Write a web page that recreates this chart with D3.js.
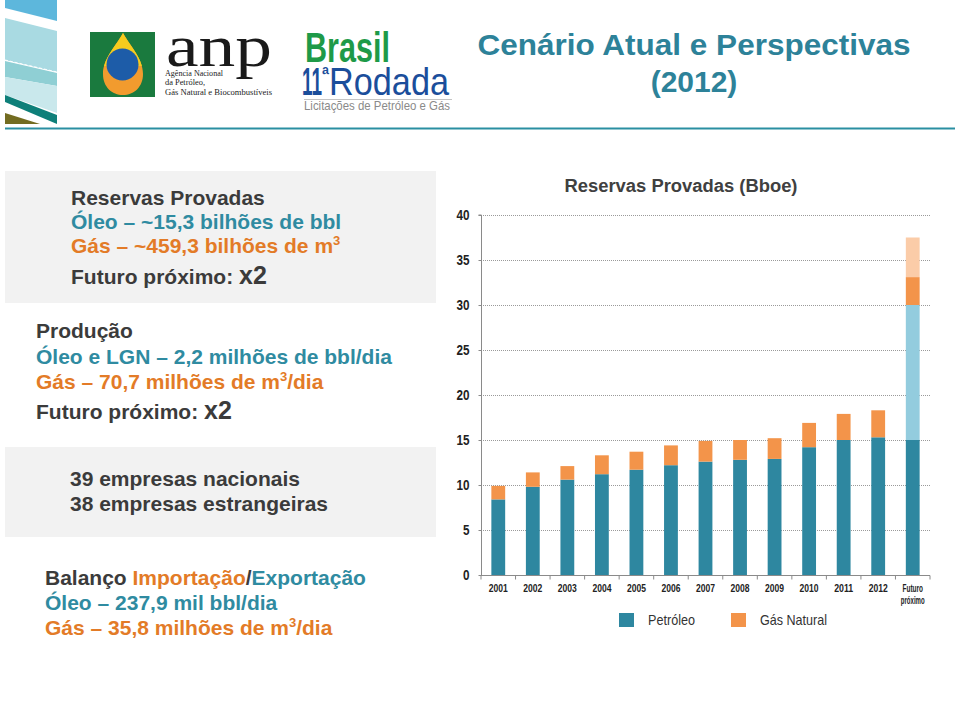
<!DOCTYPE html>
<html><head><meta charset="utf-8">
<script src="https://cdn.jsdelivr.net/npm/d3@7"></script>
<style>
html,body{margin:0;padding:0;background:#fff;}
svg{display:block;}
</style></head>
<body>
<svg id="c" width="960" height="716"></svg>
<script>
// ---------- DATA ----------
const categories = ["2001","2002","2003","2004","2005","2006","2007","2008","2009","2010","2011","2012","Futuro próximo"];
const petroleo       = [8.4, 9.8, 10.6, 11.2, 11.7, 12.2, 12.6, 12.8, 12.9, 14.2, 15.0, 15.3, 15.0];
const petroleoFuturo = [0,   0,   0,    0,    0,    0,    0,    0,    0,    0,    0,    0,    15.0];
const gasNatural     = [1.5, 1.6, 1.5,  2.1,  2.0,  2.2,  2.3,  2.2,  2.3,  2.7,  2.9,  3.0,  3.1];
const gasFuturo      = [0,   0,   0,    0,    0,    0,    0,    0,    0,    0,    0,    0,    4.4];
const yTicks = [0,5,10,15,20,25,30,35,40];
const legendLabels = ["Petróleo","Gás Natural"];

// ---------- STYLE ----------
const C = {teal:"#2E87A0", orange:"#F3944A", lblue:"#93CCDE", lorange:"#FBCCA8",
  dark:"#3B3B3B", tTeal:"#2F8BA1", tOrange:"#E37B27", box:"#F2F2F2"};
const SANS = "'Liberation Sans', Arial, Helvetica, sans-serif";
const SERIF = "'Liberation Serif','DejaVu Serif',serif";

const svg = d3.select("#c");

// ---------- HEADER DECORATION ----------
const deco = svg.append("g");
deco.append("polygon").attr("points","5,0 57,0 57,21 5,8").attr("fill","#5DB7DC");
deco.append("polygon").attr("points","5,18 57,31 57,72 5,60").attr("fill","#A9DAE2");
deco.append("line").attr("x1",5).attr("y1",60).attr("x2",57).attr("y2",72).attr("stroke","#fff").attr("stroke-width",1).attr("stroke-dasharray","3,2");
deco.append("polygon").attr("points","5,61 57,73 57,86 5,77").attr("fill","#8FCFD4");
deco.append("polygon").attr("points","5,77 57,86 57,113 5,95").attr("fill","#C9E8EC");
deco.append("polygon").attr("points","5,95 57,115 57,124 5,102").attr("fill","#0E7F79");
deco.append("polygon").attr("points","5,113 40,124 5,124").attr("fill","#736C21");
svg.append("line").attr("x1",5).attr("x2",955).attr("y1",128.5).attr("y2",128.5).attr("stroke","#2A8FA2").attr("stroke-width",2);

// ANP logo
const logo = svg.append("g");
logo.append("rect").attr("x",90).attr("y",32).attr("width",65).attr("height",65).attr("fill","#1A7A3E");
const dropPath = "M123,33 C130,46 143,58 143,74 C143,87 134,95 123,95 C112,95 103,87 103,74 C103,58 116,46 123,33 Z";
logo.append("path").attr("d",dropPath).attr("fill","#F29B2E");
logo.append("clipPath").attr("id","dropTop").append("rect").attr("x",90).attr("y",30).attr("width",70).attr("height",36);
logo.append("path").attr("d",dropPath).attr("fill","#F6CB1E").attr("clip-path","url(#dropTop)");
logo.append("circle").attr("cx",122.5).attr("cy",64.5).attr("r",16).attr("fill","#1D5CA8");
logo.append("text").attr("x",166).attr("y",66).attr("font-family",SERIF)
  .attr("font-size",60).attr("fill","#1a1a1a").attr("textLength",106).attr("lengthAdjust","spacingAndGlyphs").text("anp");
const anpSmall = ["Agência Nacional","da Petróleo,","Gás Natural e Biocombustíveis"];
const anpLen = [58, 40, 107];
const anpY = [76, 85, 95];
logo.selectAll("text.sm").data(anpSmall).join("text").attr("class","sm")
  .attr("x",165).attr("y",(d,i)=>anpY[i]).attr("font-family",SERIF)
  .attr("font-size",8.5).attr("fill","#222").attr("textLength",(d,i)=>anpLen[i]).attr("lengthAdjust","spacingAndGlyphs").text(d=>d);

// Brasil 11a Rodada
svg.append("text").attr("x",305).attr("y",62).attr("font-family",SANS).attr("font-weight","bold")
  .attr("font-size",43).attr("fill","#1E9A48").attr("textLength",85).attr("lengthAdjust","spacingAndGlyphs").text("Brasil");
svg.append("text").attr("x",302).attr("y",95).attr("font-family",SANS).attr("font-weight","bold")
  .attr("font-size",39).attr("fill","#1B4E9B").attr("textLength",20).attr("lengthAdjust","spacingAndGlyphs").text("11");
svg.append("text").attr("x",322).attr("y",82).attr("font-family",SANS).attr("font-weight","bold")
  .attr("font-size",20).attr("fill","#1B4E9B").attr("textLength",7).attr("lengthAdjust","spacingAndGlyphs").text("ª");
svg.append("text").attr("x",329).attr("y",95).attr("font-family",SANS)
  .attr("font-size",39).attr("fill","#1B4E9B").attr("textLength",120).attr("lengthAdjust","spacingAndGlyphs").text("Rodada");
svg.append("line").attr("x1",304).attr("x2",452).attr("y1",99.5).attr("y2",99.5).attr("stroke","#aaa").attr("stroke-width",0.7);
svg.append("text").attr("x",304).attr("y",110).attr("font-family",SANS).attr("font-size",13)
  .attr("fill","#8a8a8a").attr("textLength",146).attr("lengthAdjust","spacingAndGlyphs").text("Licitações de Petróleo e Gás");

// Title
svg.append("text").attr("x",694).attr("y",55).attr("text-anchor","middle").attr("font-family",SANS)
  .attr("font-weight","bold").attr("font-size",30).attr("fill","#2D8299")
  .attr("textLength",433).attr("lengthAdjust","spacingAndGlyphs").text("Cenário Atual e Perspectivas");
svg.append("text").attr("x",694).attr("y",92).attr("text-anchor","middle").attr("font-family",SANS)
  .attr("font-weight","bold").attr("font-size",30).attr("fill","#2D8299").text("(2012)");

// ---------- LEFT TEXT PANELS ----------
svg.append("rect").attr("x",5).attr("y",171).attr("width",431).attr("height",132).attr("fill",C.box);
svg.append("rect").attr("x",5).attr("y",447).attr("width",431).attr("height",90).attr("fill",C.box);

function rich(x, y, parts, size){
  const t = svg.append("text").attr("x",x).attr("y",y).attr("font-family",SANS)
    .attr("font-weight","bold").attr("font-size",size||21);
  parts.forEach(p=>{
    const s = t.append("tspan").attr("fill",p.c||C.dark).text(p.t);
    if(p.sup){ s.attr("font-size",13).attr("dy",-8); }
    if(p.after){ s.attr("dy",8); }
    if(p.size){ s.attr("font-size",p.size); }
  });
  return t;
}
rich(71,205,[{t:"Reservas Provadas"}]);
rich(71,229,[{t:"Óleo – ~15,3 bilhões de bbl",c:C.tTeal}]);
rich(71,253,[{t:"Gás – ~459,3 bilhões de m",c:C.tOrange},{t:"3",c:C.tOrange,sup:true}]);
rich(71,284,[{t:"Futuro próximo: "},{t:"x2",size:25}]);

rich(36,338,[{t:"Produção"}]);
rich(36,364,[{t:"Óleo e LGN – 2,2 milhões de bbl/dia",c:C.tTeal}]);
rich(36,389,[{t:"Gás – 70,7 milhões de m",c:C.tOrange},{t:"3",c:C.tOrange,sup:true},{t:"/dia",c:C.tOrange,after:true}]);
rich(36,419,[{t:"Futuro próximo: "},{t:"x2",size:25}]);

rich(70,486,[{t:"39 empresas nacionais"}]);
rich(70,511,[{t:"38 empresas estrangeiras"}]);

rich(45,585,[{t:"Balanço "},{t:"Importação",c:C.tOrange},{t:"/"},{t:"Exportação",c:C.tTeal}]);
rich(45,610,[{t:"Óleo – 237,9 mil bbl/dia",c:C.tTeal}]);
rich(45,635,[{t:"Gás – 35,8  milhões de m",c:C.tOrange},{t:"3",c:C.tOrange,sup:true},{t:"/dia",c:C.tOrange,after:true}]);

// ---------- CHART ----------
const x0 = 481, x1 = 930, yTop = 215, yBot = 575;
const x = d3.scaleBand().domain(categories).range([x0,x1]).paddingInner(0.6).paddingOuter(0.3);
const y = d3.scaleLinear().domain([0,40]).range([yBot,yTop]);

svg.append("text").attr("x",681).attr("y",192).attr("text-anchor","middle").attr("font-family",SANS)
  .attr("font-weight","bold").attr("font-size",18).attr("fill","#404040")
  .attr("textLength",233).attr("lengthAdjust","spacingAndGlyphs").text("Reservas Provadas (Bboe)");

// grid
svg.append("g").selectAll("line").data(yTicks.filter(d=>d>0)).join("line")
  .attr("x1",x0).attr("x2",x1).attr("y1",d=>Math.round(y(d))+0.5).attr("y2",d=>Math.round(y(d))+0.5)
  .attr("stroke","#9a9a9a").attr("stroke-width",1).attr("stroke-dasharray","1,1");

// stacked bars
const rows = categories.map((c,i)=>({cat:c, petroleo:petroleo[i], petroleoFuturo:petroleoFuturo[i], gasNatural:gasNatural[i], gasFuturo:gasFuturo[i]}));
const keys = ["petroleo","petroleoFuturo","gasNatural","gasFuturo"];
const colors = {petroleo:C.teal, petroleoFuturo:C.lblue, gasNatural:C.orange, gasFuturo:C.lorange};
const stack = d3.stack().keys(keys)(rows);
svg.append("g").selectAll("g").data(stack).join("g").attr("fill",d=>colors[d.key])
  .selectAll("rect").data(d=>d).join("rect")
  .attr("x",d=>x(d.data.cat)).attr("width",x.bandwidth())
  .attr("y",d=>y(d[1])).attr("height",d=>y(d[0])-y(d[1]));

// y axis
const yAxis = svg.append("g").attr("transform",`translate(${x0+0.5},0)`)
  .call(d3.axisLeft(y).tickValues(yTicks).tickSize(3).tickPadding(9).tickFormat(d3.format("d")));
yAxis.select(".domain").attr("stroke","#8a8a8a").attr("d",`M-3,${yTop}H0V${yBot}`);
yAxis.selectAll(".tick line").attr("stroke","#8a8a8a");
yAxis.selectAll("text").attr("font-family",SANS).attr("font-weight","bold").attr("font-size",14).attr("fill","#222")
  .attr("textLength",d=>d<10?6.5:13).attr("lengthAdjust","spacingAndGlyphs");

// x axis
const xa = svg.append("g").attr("transform",`translate(0,${yBot+0.5})`);
xa.append("line").attr("x1",x0).attr("x2",x1).attr("stroke","#8a8a8a");
const step = x.step();
const b0 = x(categories[0]) + x.bandwidth()/2 - step/2;
xa.selectAll("line.t").data(d3.range(categories.length+1)).join("line").attr("class","t")
  .attr("x1",i=>b0+i*step).attr("x2",i=>b0+i*step).attr("y1",0).attr("y2",4).attr("stroke","#8a8a8a");
const xl = xa.selectAll("text").data(categories).join("text")
  .attr("x",d=>x(d)+x.bandwidth()/2).attr("y",16).attr("text-anchor","middle")
  .attr("font-family",SANS).attr("font-weight","bold").attr("font-size",10.5).attr("fill","#222");
xl.each(function(d){
  const parts = d.split(" ");
  const t = d3.select(this);
  parts.forEach((p,i)=>t.append("tspan").attr("x",x(d)+x.bandwidth()/2).attr("dy",i?12:0)
    .attr("textLength",p.length===4?19:(p.length*3.4)).attr("lengthAdjust","spacingAndGlyphs").text(p));
});

// legend
const lg = svg.append("g");
const lx = [619, 731];
const lLen = [47, 67];
legendLabels.forEach((l,i)=>{
  lg.append("rect").attr("x",lx[i]).attr("y",613).attr("width",15).attr("height",14).attr("fill",i?C.orange:C.teal);
  lg.append("text").attr("x",lx[i]+29).attr("y",625).attr("font-family",SANS).attr("font-size",15)
    .attr("fill","#333").attr("textLength",lLen[i]).attr("lengthAdjust","spacingAndGlyphs").text(l);
});
</script>
</body></html>
